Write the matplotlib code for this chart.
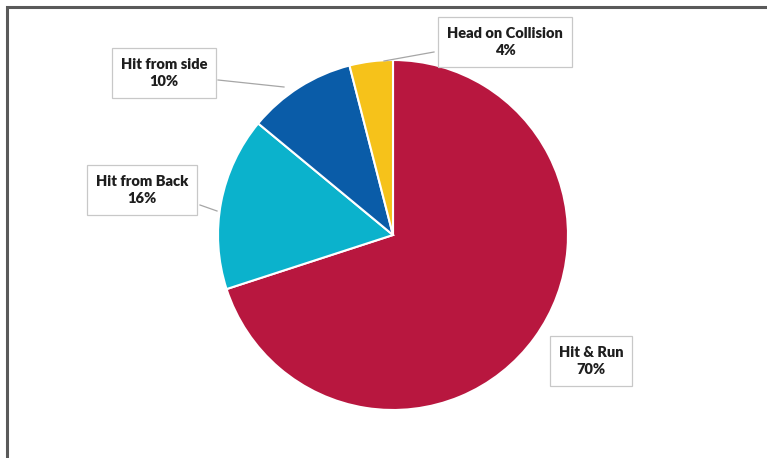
import matplotlib.pyplot as plt

categories = ['Hit & Run', 'Hit from Back', 'Hit from side', 'Head on Collision']
shares = [70, 16, 10, 4]
colors = ['#B8173F', '#0BB2CC', '#0A5CA8', '#F6C21A']

W, H = 767, 458
fig = plt.figure(figsize=(W / 100, H / 100), dpi=100)
ax = fig.add_axes([0, 0, 1, 1])

ax.pie(shares, colors=colors, startangle=90, counterclock=False,
       center=(393, H - 235), radius=175,
       wedgeprops=dict(edgecolor='white', linewidth=1.5))

# label boxes (centre in pixels from top-left) and leader lines
label_pos = [(591, 361), (142, 190), (164, 73), (505, 42)]
leaders = [None, ((200, 205), (217, 211)), ((218, 80), (284, 87)), ((434, 52), (384, 61))]

for name, val, (px, py), ld in zip(categories, shares, label_pos, leaders):
    if ld:
        (x0, y0), (x1, y1) = ld
        ax.plot([x0, x1], [H - y0, H - y1], color='#A6A6A6', lw=0.9, zorder=1)
    ax.text(px, H - py, f'{name}\n{val}%', ha='center', va='center',
            fontsize=10.5, fontweight='heavy', family=['Lato', 'DejaVu Sans'],
            color='#1E1E1E', linespacing=1.45, zorder=5,
            bbox=dict(boxstyle='square,pad=0.62', fc='white', ec='#C8C8C8', lw=0.9))

# frame lines on the top and left edges
ax.plot([7, 7, W], [0, H - 7, H - 7], color='#5A5A5A', lw=2.2, solid_joinstyle='miter')

ax.set_xlim(0, W)
ax.set_ylim(0, H)
ax.set_aspect('equal', adjustable='box')
ax.axis('off')

fig.savefig('out.png', dpi=100, facecolor='white')
